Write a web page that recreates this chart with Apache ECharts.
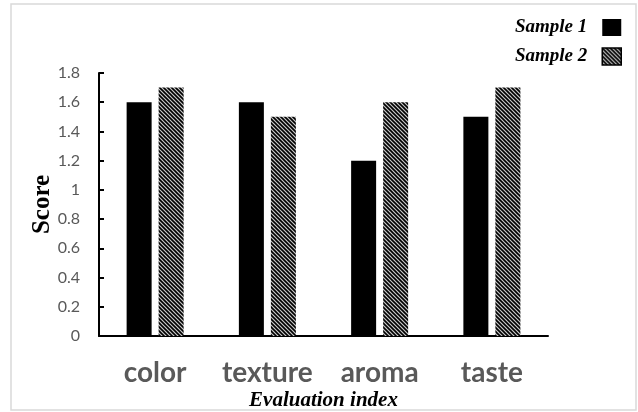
<!DOCTYPE html>
<html lang="en">
<head>
<meta charset="UTF-8">
<title>Score chart</title>
<script src="https://cdn.jsdelivr.net/npm/echarts@6/dist/echarts.min.js"></script>
<style>
    html, body {
        margin: 0;
        padding: 0;
        background: #fff;
    }
    #chart {
        width: 638px;
        height: 412px;
    }
</style>
</head>
<body>
<div id="chart"></div>
<script>
    var categories = ['color', 'texture', 'aroma', 'taste'];
    var sample1 = [1.6, 1.6, 1.2, 1.5];
    var sample2 = [1.7, 1.5, 1.6, 1.7];
    var seriesNames = ['Sample 1', 'Sample 2'];

    // diagonal hatch tile for sample 2
    function hatch() {
        var c = document.createElement('canvas');
        c.width = 4;
        c.height = 4;
        var ctx = c.getContext('2d');
        ctx.fillStyle = '#c8c8c8';
        ctx.fillRect(0, 0, 4, 4);
        ctx.strokeStyle = '#000';
        ctx.lineWidth = 1.6;
        ctx.beginPath();
        ctx.moveTo(-1, -1); ctx.lineTo(5, 5);
        ctx.moveTo(-1, 3); ctx.lineTo(1, 5);
        ctx.moveTo(3, -1); ctx.lineTo(5, 1);
        ctx.stroke();
        return c;
    }
    var pattern = { image: hatch(), repeat: 'repeat' };

    var chart = echarts.init(document.getElementById('chart'));
    var serif = '"Liberation Serif", "DejaVu Serif", serif';

    chart.setOption({
        animation: false,
        backgroundColor: '#fff',
        graphic: [{
            type: 'rect',
            shape: { x: 11, y: 4, width: 625, height: 406 },
            style: { fill: 'none', stroke: '#d9d9d9', lineWidth: 1.5 },
            silent: true
        }],
        legend: {
            orient: 'vertical',
            right: 11,
            top: 13,
            align: 'right',
            itemWidth: 19,
            itemHeight: 17,
            itemGap: 10,
            textStyle: {
                fontFamily: serif,
                fontStyle: 'italic',
                fontWeight: 'bold',
                fontSize: 19,
                color: '#000',
                padding: [0, 10, 0, 0]
            },
            data: [
                { name: seriesNames[0], icon: 'rect' },
                { name: seriesNames[1], icon: 'rect',
                  itemStyle: { color: pattern, borderColor: '#000', borderWidth: 1.5 } }
            ]
        },
        grid: { left: 99, right: 90, top: 73, bottom: 76, outerBoundsMode: 'none', containLabel: false },
        xAxis: {
            type: 'category',
            data: categories,
            name: 'Evaluation index',
            nameLocation: 'middle',
            nameGap: 54,
            nameMoveOverlap: false,
            nameTextStyle: {
                fontFamily: serif,
                fontStyle: 'italic',
                fontWeight: 'bold',
                fontSize: 21,
                color: '#000'
            },
            axisLine: { lineStyle: { color: '#000', width: 2 } },
            axisTick: { show: false },
            axisLabel: {
                interval: 0,
                margin: 23,
                fontFamily: 'Lato',
                fontWeight: 'bold',
                fontSize: 28,
                color: '#595959'
            }
        },
        yAxis: {
            type: 'value',
            min: 0,
            max: 1.8,
            interval: 0.2,
            name: 'Score',
            nameLocation: 'middle',
            nameGap: 44,
            nameMoveOverlap: false,
            nameTextStyle: {
                fontFamily: serif,
                fontWeight: 'bold',
                fontSize: 25,
                color: '#000'
            },
            splitLine: { show: false },
            axisLine: { show: true, lineStyle: { color: '#000', width: 2 } },
            axisTick: { show: true, inside: true, length: 5, lineStyle: { color: '#000', width: 2 } },
            axisLabel: {
                margin: 19,
                fontFamily: 'Lato',
                fontSize: 16,
                color: '#595959',
                formatter: function (v) { return String(Math.round(v * 10) / 10); }
            }
        },
        series: [{
            name: seriesNames[0],
            type: 'bar',
            data: sample1,
            barWidth: 25,
            barGap: '28%',
            itemStyle: { color: '#000' }
        }, {
            name: seriesNames[1],
            type: 'bar',
            data: sample2,
            barWidth: 25,
            itemStyle: { color: pattern }
        }]
    });
</script>
</body>
</html>
